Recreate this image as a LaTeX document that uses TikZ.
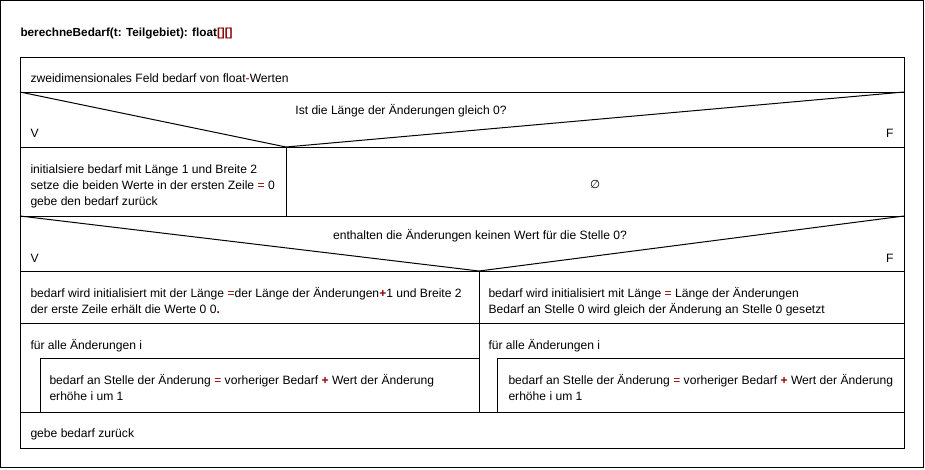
\documentclass[tikz,border=0pt]{standalone}
\usepackage{fontspec}
\setmainfont{Liberation Sans}
\newfontfamily\nssymfont{DejaVu Sans}
\usepackage{xcolor}
\definecolor{NSRed}{HTML}{8B0000}
\newcommand{\nsred}[1]{\textcolor{NSRed}{#1}}
\newcommand{\nsredb}[1]{\textcolor{NSRed}{\bfseries #1}}

\begin{document}
\begin{tikzpicture}[x=1pt,y=-1pt,line width=1pt,
  nstext/.style={anchor=base west,inner sep=0pt,font=\fontsize{12.1}{14}\selectfont},
  nsmid/.style={anchor=base,inner sep=0pt,font=\fontsize{12.1}{14}\selectfont}]
\path[use as bounding box] (0,0) rectangle (925,469);
\fill[white] (0,0) rectangle (925,469);
\draw (0.5,0.5) rectangle (923.5,467.5);
\node[nstext,font=\fontsize{11.75}{14}\selectfont\bfseries] (title) at (20,36) {berechneBedarf(t: Teilgebiet): float\nsred{[][]}};
% outer block and rows
\draw (20,57) rectangle (904,448);
\draw (20,92) -- (904,92);
\draw (20,147) -- (904,147);
\draw (20,216) -- (904,216);
\draw (20,271) -- (904,271);
\draw (20,323) -- (904,323);
\draw (20,412) -- (904,412);
% first decision
\draw (20,92) -- (286,147) -- (904,92);
\draw (286,147) -- (286,216);
% second decision
\draw (20,216) -- (479,271) -- (904,216);
\draw (479,271) -- (479,412);
% loop bodies
\draw (479,358) -- (40,358) -- (40,412);
\draw (904,358) -- (497,358) -- (497,412);
% texts
\node[nstext] (decl) at (30,82) {zweidimensionales Feld bedarf von float\nsred{-}Werten};
\node[nsmid] (cond1) at (401,114) {Ist die Länge der Änderungen gleich 0?};
\node[nstext] (yes1) at (30,137) {V};
\node[nstext,anchor=base east] (no1) at (894,137) {F};
\node[nstext] (init1) at (30,173) {initialsiere bedarf mit Länge 1 und Breite 2};
\node[nstext] (init2) at (30,189) {setze die beiden Werte in der ersten Zeile \nsred{=} 0};
\node[nstext] (init3) at (30,205) {gebe den bedarf zurück};
\node[nsmid,font=\fontsize{11.5}{12}\nssymfont] (empty) at (595,188) {∅};
\node[nsmid] (cond2) at (480,239) {enthalten die Änderungen keinen Wert für die Stelle 0?};
\node[nstext] (yes2) at (30,262) {V};
\node[nstext,anchor=base east] (no2) at (894,262) {F};
\node[nstext] (left1) at (30,297) {bedarf wird initialisiert mit der Länge \nsred{=}der Länge der Änderungen\nsredb{+}1 und Breite 2};
\node[nstext] (left2) at (30,313) {der erste Zeile erhält die Werte 0 0\nsredb{.}};
\node[nstext] (leftloop) at (30,349) {für alle Änderungen i};
\node[nstext] (leftbody1) at (49,384) {bedarf an Stelle der Änderung \nsred{=} vorheriger Bedarf \nsredb{+} Wert der Änderung};
\node[nstext] (leftbody2) at (49,400) {erhöhe i um 1};
\node[nstext] (right1) at (488,297) {bedarf wird initialisiert mit Länge \nsred{=} Länge der Änderungen};
\node[nstext] (right2) at (488,313) {Bedarf an Stelle 0 wird gleich der Änderung an Stelle 0 gesetzt};
\node[nstext] (rightloop) at (488,349) {für alle Änderungen i};
\node[nstext] (rightbody1) at (508,384) {bedarf an Stelle der Änderung \nsred{=} vorheriger Bedarf \nsredb{+} Wert der Änderung};
\node[nstext] (rightbody2) at (508,400) {erhöhe i um 1};
\node[nstext] (ret) at (30,437) {gebe bedarf zurück};
\end{tikzpicture}
\end{document}
